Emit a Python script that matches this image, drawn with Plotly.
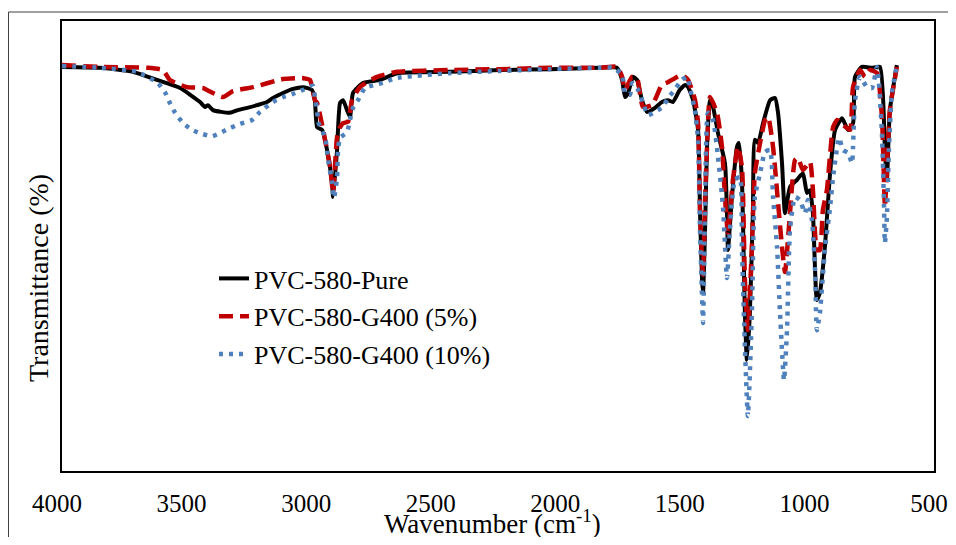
import plotly.graph_objects as go

# ---- data ----
wn_pure = [4000, 3848, 3715, 3619, 3526, 3446, 3426, 3414, 3394, 3326, 3294, 3257, 3217, 3177, 3153, 3113,
           3073, 3033, 2997, 2985, 2976, 2956, 2936, 2916, 2912, 2896, 2884, 2872, 2856, 2844, 2832, 2792,
           2724, 2655, 2443, 2242, 2041, 1841, 1772, 1752, 1740, 1728, 1708, 1692, 1672, 1652, 1620, 1592,
           1568, 1548, 1520, 1499, 1487, 1467, 1447, 1439, 1431, 1427, 1419, 1411, 1399, 1387, 1367, 1339,
           1331, 1327, 1311, 1291, 1283, 1271, 1259, 1251, 1239, 1227, 1219, 1206, 1186, 1158, 1138, 1126,
           1110, 1098, 1078, 1050, 1026, 1010, 998, 986, 970, 958, 938, 917, 897, 869, 845, 825,
           817, 789, 749, 717, 697, 689, 677, 649]
t_pure = [89.8, 89.6, 88.7, 86.9, 85.1, 82.0, 80.9, 81.3, 80.2, 79.6, 80.2, 80.7, 81.3, 82.0, 82.9, 84.0,
          84.9, 85.3, 84.7, 82.4, 76.4, 75.8, 71.3, 64.0, 60.9, 71.3, 81.8, 82.4, 80.2, 78.7, 84.0, 86.2,
          86.9, 88.4, 88.7, 89.1, 89.3, 89.6, 89.6, 86.9, 83.1, 84.0, 87.6, 86.9, 82.4, 79.8, 80.7, 82.0,
          82.4, 82.0, 84.7, 85.8, 85.3, 82.4, 75.8, 57.3, 42.4, 39.6, 53.6, 72.0, 82.4, 80.9, 75.1, 68.4,
          57.3, 49.1, 60.9, 72.0, 72.9, 64.7, 35.1, 24.7, 35.1, 57.3, 73.6, 72.9, 77.3, 82.4, 82.9, 79.6,
          68.4, 57.3, 63.1, 64.7, 66.2, 61.8, 62.4, 57.3, 38.0, 39.6, 49.8, 66.2, 75.8, 78.4, 75.8, 77.3,
          87.6, 89.8, 89.6, 89.8, 71.3, 64.7, 80.2, 90.2]

wn_g5 = [4000, 3848, 3659, 3595, 3567, 3498, 3434, 3394, 3354, 3314, 3233, 3113, 3033, 3005, 2985, 2976,
         2952, 2924, 2912, 2896, 2884, 2872, 2852, 2836, 2804, 2736, 2655, 2443, 2242, 2041, 1841, 1772,
         1752, 1740, 1712, 1692, 1668, 1632, 1592, 1568, 1540, 1512, 1487, 1459, 1447, 1439, 1431, 1427,
         1419, 1411, 1399, 1371, 1351, 1339, 1327, 1307, 1287, 1271, 1259, 1247, 1231, 1219, 1198, 1178,
         1166, 1146, 1126, 1110, 1098, 1078, 1058, 1046, 1026, 998, 986, 970, 958, 946, 930, 905,
         889, 865, 837, 825, 797, 777, 757, 729, 709, 697, 689, 677, 649]
t_g5 = [90.2, 89.8, 89.6, 89.1, 86.9, 85.3, 85.1, 84.0, 83.1, 84.4, 85.3, 87.1, 87.3, 86.9, 82.4, 81.8,
        75.8, 67.6, 61.8, 74.2, 76.4, 77.3, 77.6, 82.4, 85.3, 87.6, 88.7, 89.1, 89.3, 89.6, 89.6, 89.8,
        87.6, 84.7, 87.6, 87.3, 80.9, 81.3, 85.8, 86.4, 87.3, 88.0, 86.9, 82.4, 77.3, 57.3, 46.9, 43.6,
        60.2, 72.0, 83.1, 79.6, 72.0, 60.9, 52.9, 64.7, 72.0, 67.6, 42.4, 31.3, 49.8, 66.2, 72.9, 78.0,
        78.7, 72.0, 59.6, 49.8, 44.2, 57.3, 69.1, 69.6, 66.9, 68.7, 62.4, 49.1, 49.1, 58.0, 62.4, 76.4,
        78.0, 76.9, 75.8, 85.3, 89.1, 87.6, 89.1, 88.4, 78.7, 58.7, 66.9, 80.2, 89.8]

wn_g10 = [4000, 3848, 3699, 3615, 3587, 3567, 3546, 3514, 3478, 3438, 3398, 3366, 3326, 3286, 3237, 3205,
          3153, 3113, 3073, 3033, 2993, 2985, 2976, 2972, 2944, 2932, 2916, 2908, 2896, 2892, 2884, 2856,
          2844, 2832, 2812, 2784, 2744, 2704, 2663, 2443, 2242, 2041, 1841, 1788, 1752, 1740, 1720, 1712,
          1688, 1668, 1648, 1620, 1588, 1568, 1548, 1512, 1491, 1479, 1459, 1447, 1439, 1431, 1427, 1419,
          1407, 1387, 1367, 1347, 1331, 1319, 1299, 1279, 1271, 1259, 1247, 1231, 1219, 1198, 1178, 1158,
          1146, 1130, 1118, 1102, 1090, 1078, 1058, 1038, 1018, 1006, 990, 978, 970, 958, 938, 917,
          905, 881, 865, 845, 829, 825, 817, 797, 769, 749, 729, 721, 709, 701, 697, 689,
          681, 669, 649]
t_g10 = [90.0, 89.6, 88.7, 86.2, 84.2, 81.8, 79.6, 77.3, 75.8, 74.9, 74.4, 75.1, 76.2, 77.1, 78.0, 79.8,
         82.0, 83.1, 83.8, 84.7, 85.6, 83.1, 80.2, 77.6, 74.2, 69.1, 64.0, 60.7, 65.3, 71.3, 74.0, 75.3,
         78.0, 80.7, 82.4, 85.1, 85.8, 86.4, 87.3, 88.4, 88.9, 89.3, 89.6, 89.6, 88.0, 84.0, 83.6, 86.2,
         84.7, 81.8, 79.1, 79.8, 80.9, 82.9, 84.2, 86.9, 87.6, 85.1, 79.8, 73.6, 53.6, 38.7, 32.9, 57.3,
         79.6, 78.0, 69.8, 58.7, 42.9, 53.6, 64.7, 65.3, 49.8, 27.6, 12.2, 35.1, 60.9, 66.2, 70.9, 71.3,
         60.9, 49.8, 35.1, 20.2, 31.3, 53.6, 60.9, 60.2, 57.3, 60.2, 55.8, 45.3, 31.3, 35.1, 49.1, 58.7,
         65.3, 74.0, 71.3, 70.7, 68.4, 72.0, 82.4, 87.6, 85.3, 85.1, 89.8, 86.2, 75.1, 60.2, 50.7, 56.4,
         71.3, 84.0, 90.2]

names = ["PVC-580-Pure", "PVC-580-G400 (5%)", "PVC-580-G400 (10%)"]
x_ticks = [4000, 3500, 3000, 2500, 2000, 1500, 1000, 500]
x_tick_text = ["4000", "3500", "3000", "2500", "2000", "1500", "1000", "500"]

FONT = "Liberation Serif"

fig = go.Figure()
fig.add_trace(go.Scatter(x=wn_pure, y=t_pure, mode="lines", name=names[0], legendgroup="a",
                         line=dict(color="#000000", width=4, shape="spline", smoothing=0.5)))
fig.add_trace(go.Scatter(x=wn_g5, y=t_g5, mode="lines", name=names[1], legendgroup="b",
                         line=dict(color="#C00000", width=4.5, dash="14px,7px", shape="spline", smoothing=0.5)))
fig.add_trace(go.Scatter(x=wn_g10, y=t_g10, mode="lines", name=names[2], legendgroup="c",
                         line=dict(color="#4F81BD", width=4.5, dash="4px,6px", shape="spline", smoothing=0.5)))

# plot area in reference-picture pixels: x 62..934, y 21..471 (page has an 8px body margin)
def px(xp):
    return (xp - 62) / 872.0

def py(yp):
    return (471 - yp) / 450.0

fig.update_layout(
    width=940, height=529,
    margin=dict(l=54, r=14, t=13, b=66, autoexpand=False),
    paper_bgcolor="white", plot_bgcolor="white",
    font=dict(family=FONT, size=26, color="black"),
    showlegend=True,
    legend=dict(x=px(214), y=py(255), xanchor="left", yanchor="top",
                bgcolor="rgba(0,0,0,0)", font=dict(family=FONT, size=26, color="black"),
                tracegroupgap=1, itemwidth=30),
    xaxis=dict(range=[4000, 500], tickvals=x_ticks, ticktext=x_tick_text, ticks="",
               showgrid=False, zeroline=False, ticklabeloverflow="allow", automargin=False,
               showline=True, linecolor="black", linewidth=2, mirror=True,
               tickfont=dict(family=FONT, size=25, color="black"),
               ticklabelstandoff=9, ticklabelshift=5),
    yaxis=dict(range=[0, 100], showticklabels=False, ticks="", showgrid=False, zeroline=False,
               automargin=False,
               showline=True, linecolor="black", linewidth=2, mirror=True),
    annotations=[
        dict(text="Wavenumber (cm<sup>-1</sup>)", xref="paper", yref="paper", x=px(492), y=py(522),
             xanchor="center", yanchor="middle", showarrow=False,
             font=dict(family=FONT, size=27, color="black")),
        dict(text="Transmittance (%)", xref="paper", yref="paper", x=px(38), y=py(278),
             xanchor="center", yanchor="middle", textangle=-90, showarrow=False,
             font=dict(family=FONT, size=28, color="black")),
    ],
    shapes=[
        dict(type="line", xref="paper", yref="paper", x0=px(8.5), x1=px(960), y0=py(12), y1=py(12),
             line=dict(color="#404040", width=1)),
        dict(type="line", xref="paper", yref="paper", x0=px(8.5), x1=px(8.5), y0=py(12), y1=py(560),
             line=dict(color="#404040", width=1)),
    ],
)

fig.write_html("out.html")
